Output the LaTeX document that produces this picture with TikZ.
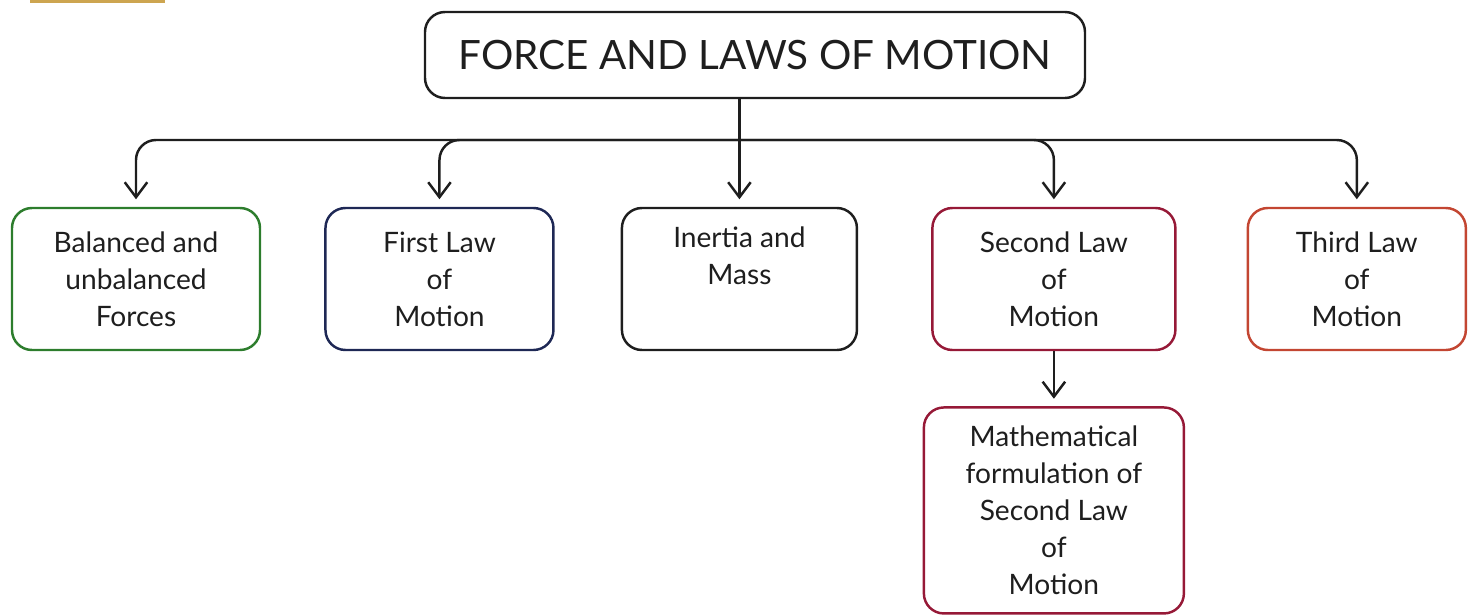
\documentclass[tikz,border=0pt]{standalone}
\usepackage{fontspec}
\setmainfont{Lato}
\usetikzlibrary{arrows.meta, positioning}
\definecolor{ink}{RGB}{30,30,30}
\definecolor{leafgreen}{RGB}{45,125,45}
\definecolor{navy}{RGB}{30,40,85}
\definecolor{crimson}{RGB}{150,25,55}
\definecolor{brick}{RGB}{195,70,50}
\definecolor{tan}{RGB}{205,165,80}

\begin{document}
\begin{tikzpicture}[
            topic/.style={draw=#1, line width=1.4pt, rounded corners=0.4cm, minimum height=2.84cm, align=center, text=ink, font=\fontsize{16}{21}\selectfont},
            title/.style={draw=ink, line width=1.4pt, rounded corners=0.4cm, minimum width=13.2cm, minimum height=1.72cm, text=ink, font=\fontsize{23}{27}\selectfont},
            link/.style={-{Straight Barb[length=3mm, width=4.5mm]}, line width=1.4pt, ink, rounded corners=0.4cm, shorten >=0.15cm}
        ]
            \useasboundingbox (0,0) rectangle (29.38,-12.3);
            \fill[tan] (0.6,0) rectangle (3.3,-0.07);

            % Title
            \node[title] (force) at (15.1,-1.1) {FORCE AND LAWS OF MOTION};

            % Topics
            \node[topic=leafgreen, minimum width=4.96cm] (bal) at (2.72,-5.58) {Balanced and\\unbalanced\\Forces};
            \node[topic=navy, minimum width=4.56cm, right=1.26cm of bal] (first) {First Law\\of\\Motion};
            \node[topic=ink, minimum width=4.7cm, text depth=0.95cm, right=1.32cm of first] (inertia) {Inertia and\\Mass};
            \node[topic=crimson, minimum width=4.86cm, right=1.46cm of inertia] (second) {Second Law\\of\\Motion};
            \node[topic=brick, minimum width=4.36cm, right=1.40cm of second] (third) {Third Law\\of\\Motion};

            % Sub topic
            \node[topic=crimson, minimum width=5.2cm, minimum height=4.12cm, below=1.1cm of second] (maths) {Mathematical\\formulation of\\Second Law\\of\\Motion};

            % Arrows
            \coordinate (bus) at (inertia.north |- 0,-2.8);
            \draw[link] (inertia.north |- force.south) -- (inertia.north);
            \draw[link] (bus) -| (bal.north);
            \draw[link] (bus) -| (first.north);
            \draw[link] (bus) -| (second.north);
            \draw[link] (bus) -| (third.north);

            \draw[link] (second.south) -- (maths.north);

        \end{tikzpicture}
\end{document}
